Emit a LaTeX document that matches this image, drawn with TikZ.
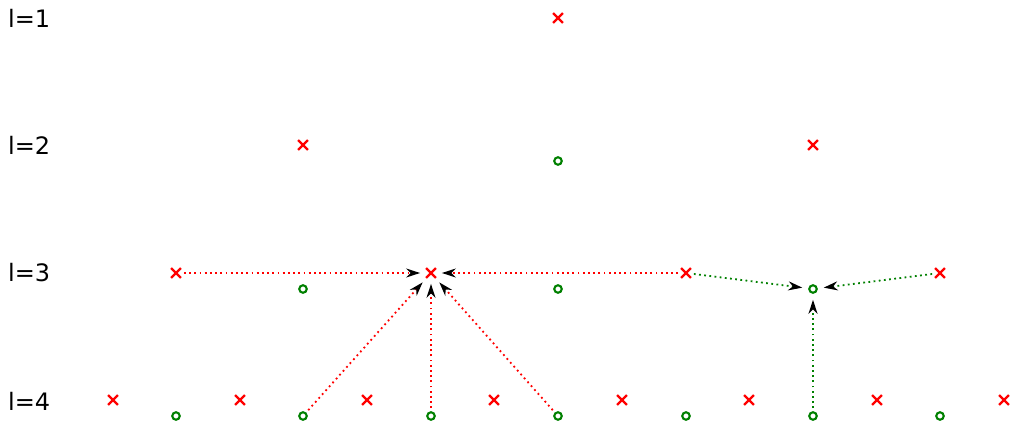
\documentclass[tikz,border=0pt]{standalone}
\usepackage{fontspec}
\setmainfont{DejaVu Sans}
\usetikzlibrary{shapes.misc,arrows.meta}
\definecolor{mred}{RGB}{255,0,0}
\definecolor{mgreen}{RGB}{0,128,0}
\begin{document}
\begin{tikzpicture}[x=1pt,y=-1pt,
  rx/.style={cross out,draw=mred,line width=2.3pt,minimum size=7.5pt,inner sep=0pt},
  gc/.style={circle,draw=mgreen,line width=2.1pt,minimum size=7.5pt,inner sep=0pt},
  lab/.style={anchor=west,inner sep=0pt,font=\fontsize{24}{27}\selectfont},
  conn/.style={line width=1.8pt,dash pattern=on 1.8pt off 3.4pt,shorten <=3pt,shorten >=6pt,
    -{Stealth[length=14pt,width=9pt,inset=4.5pt,black]}},
  rconn/.style={conn,draw=mred},
  gconn/.style={conn,draw=mgreen}]
\useasboundingbox (0,0) rectangle (1013,423);
\node[lab] (L1) at (8,18) {l=1};
\node[lab] (L2) at (8,145) {l=2};
\node[lab] (L3) at (8,273) {l=3};
\node[lab] (L4) at (8,401) {l=4};
% level 1
\node[rx] (a1) at (558,18) {};
% level 2
\node[rx] (b1) at (303,145) {};
\node[gc] (b2) at (558,161) {};
\node[rx] (b3) at (813,145) {};
% level 3
\node[rx] (c1) at (176,273) {};
\node[gc] (c2) at (303,289) {};
\node[rx] (c3) at (431,273) {};
\node[gc] (c4) at (558,289) {};
\node[rx] (c5) at (686,273) {};
\node[gc] (c6) at (813,289) {};
\node[rx] (c7) at (940,273) {};
% level 4
\node[rx] (d1) at (113,400) {};
\node[gc] (d2) at (176,416) {};
\node[rx] (d3) at (240,400) {};
\node[gc] (d4) at (303,416) {};
\node[rx] (d5) at (367,400) {};
\node[gc] (d6) at (431,416) {};
\node[rx] (d7) at (494,400) {};
\node[gc] (d8) at (558,416) {};
\node[rx] (d9) at (622,400) {};
\node[gc] (d10) at (686,416) {};
\node[rx] (d11) at (749,400) {};
\node[gc] (d12) at (813,416) {};
\node[rx] (d13) at (877,400) {};
\node[gc] (d14) at (940,416) {};
\node[rx] (d15) at (1004,400) {};
% connectors
\draw[rconn] (c1) -- (c3);
\draw[rconn] (c5) -- (c3);
\draw[rconn] (d4) -- (c3);
\draw[rconn] (d6) -- (c3);
\draw[rconn] (d8) -- (c3);
\draw[gconn] (c5) -- (c6);
\draw[gconn] (c7) -- (c6);
\draw[gconn] (d12) -- (c6);
\end{tikzpicture}
\end{document}
